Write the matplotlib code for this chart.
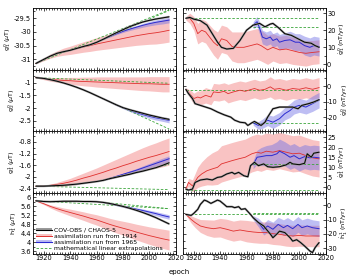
import numpy as np
import matplotlib.pyplot as plt
from matplotlib.ticker import MultipleLocator, AutoMinorLocator, FuncFormatter
from matplotlib.patches import Patch
from matplotlib.lines import Line2D

plt.rcParams['axes.unicode_minus'] = False
plt.rcParams['font.family'] = 'DejaVu Sans'

# ---- left column: Gauss coefficients (muT), 5-year epochs ----
yr_l = [1914, 1920, 1925, 1930, 1935, 1940, 1945, 1950, 1955, 1960, 1965,
        1970, 1975, 1980, 1985, 1990, 1995, 2000, 2005, 2010, 2015]
yr_l65 = [1965, 1970, 1975, 1980, 1985, 1990, 1995, 2000, 2005, 2010, 2015]

g10_obs = [-31.15, -31.0, -30.88, -30.78, -30.72, -30.67, -30.6, -30.53, -30.47, -30.38, -30.27,
           -30.15, -30.03, -29.92, -29.81, -29.72, -29.64, -29.58, -29.53, -29.49, -29.45]
g10_r14 = [-31.15, -31.0, -30.88, -30.79, -30.72, -30.67, -30.61, -30.55, -30.5, -30.44, -30.39,
           -30.34, -30.29, -30.24, -30.19, -30.14, -30.1, -30.06, -30.03, -29.99, -29.94]
g10_r14_sd = [0.01, 0.05, 0.08, 0.1, 0.13, 0.15, 0.17, 0.19, 0.21, 0.23, 0.25,
              0.27, 0.29, 0.31, 0.33, 0.35, 0.37, 0.39, 0.41, 0.42, 0.43]
g10_r65 = [-30.27, -30.17, -30.07, -29.98, -29.9, -29.83, -29.76, -29.7, -29.65, -29.61, -29.57]
g10_r65_sd = [0.005, 0.02, 0.03, 0.04, 0.05, 0.06, 0.07, 0.08, 0.09, 0.1, 0.1]
g10_ext14 = [-31.15, -29.2]
g10_ext65 = [-30.27, -29.22]

g20_obs = [-0.8, -0.83, -0.88, -0.94, -1.01, -1.09, -1.18, -1.28, -1.39, -1.51, -1.63,
           -1.75, -1.87, -1.98, -2.06, -2.13, -2.2, -2.27, -2.33, -2.39, -2.44]
g20_r14 = [-0.8, -0.84, -0.87, -0.89, -0.91, -0.92, -0.94, -0.95, -0.96, -0.97, -0.98,
           -0.99, -1.0, -1.01, -1.02, -1.03, -1.04, -1.04, -1.05, -1.06, -1.06]
g20_r14_sd = [0.01, 0.04, 0.07, 0.09, 0.11, 0.13, 0.15, 0.17, 0.18, 0.2, 0.21,
              0.22, 0.23, 0.24, 0.25, 0.26, 0.27, 0.28, 0.29, 0.3, 0.3]
g20_r65 = [-1.63, -1.75, -1.87, -1.98, -2.08, -2.17, -2.25, -2.32, -2.38, -2.43, -2.48]
g20_r65_sd = [0.005, 0.02, 0.03, 0.04, 0.05, 0.06, 0.07, 0.08, 0.09, 0.09, 0.1]
g20_ext14 = [-0.8, -1.02]
g20_ext65 = [-1.63, -2.82]

g11_obs = [-2.33, -2.33, -2.32, -2.31, -2.3, -2.28, -2.26, -2.23, -2.2, -2.17, -2.13,
           -2.07, -2.02, -1.97, -1.92, -1.86, -1.81, -1.75, -1.69, -1.61, -1.52]
g11_r14 = [-2.33, -2.32, -2.3, -2.27, -2.23, -2.18, -2.12, -2.05, -1.99, -1.92, -1.85,
           -1.77, -1.7, -1.62, -1.55, -1.47, -1.4, -1.33, -1.27, -1.2, -1.13]
g11_r14_sd = [0.01, 0.02, 0.04, 0.07, 0.1, 0.12, 0.15, 0.17, 0.2, 0.22, 0.25,
              0.27, 0.3, 0.32, 0.35, 0.37, 0.4, 0.42, 0.44, 0.46, 0.47]
g11_r65 = [-2.13, -2.06, -1.99, -1.92, -1.85, -1.78, -1.7, -1.62, -1.54, -1.46, -1.38]
g11_r65_sd = [0.005, 0.02, 0.03, 0.04, 0.05, 0.06, 0.07, 0.08, 0.09, 0.1, 0.1]
g11_ext14 = [-2.33, -2.45]
g11_ext65 = [-2.13, -1.58]

h11_obs = [5.85, 5.82, 5.81, 5.82, 5.83, 5.83, 5.83, 5.82, 5.82, 5.81, 5.78,
           5.73, 5.67, 5.6, 5.52, 5.43, 5.33, 5.22, 5.1, 4.96, 4.82]
h11_r14 = [5.85, 5.72, 5.6, 5.5, 5.41, 5.33, 5.25, 5.17, 5.08, 5.0, 4.9,
           4.8, 4.71, 4.63, 4.55, 4.46, 4.38, 4.3, 4.23, 4.16, 4.1]
h11_r14_sd = [0.01, 0.04, 0.07, 0.1, 0.12, 0.15, 0.17, 0.19, 0.21, 0.23, 0.25,
              0.27, 0.29, 0.31, 0.33, 0.35, 0.37, 0.39, 0.41, 0.43, 0.44]
h11_r65 = [5.78, 5.72, 5.66, 5.6, 5.55, 5.48, 5.42, 5.35, 5.28, 5.2, 5.13]
h11_r65_sd = [0.005, 0.02, 0.03, 0.04, 0.05, 0.06, 0.07, 0.08, 0.09, 0.1, 0.1]
h11_ext14 = [5.85, 5.5]
h11_ext65 = [5.78, 5.5]

# ---- right column: secular variation (nT/yr) ----
sv10_obs_yr = [1914, 1917, 1920, 1925, 1930, 1934, 1938, 1941, 1945, 1950, 1955, 1960, 1965,
               1970, 1974, 1978, 1980, 1984, 1989, 1994, 1999, 2004, 2009, 2012, 2015]
sv10_obs = [27, 27.5, 26.5, 25.6, 23, 18, 13, 10, 9, 9.4, 14, 20, 23,
            24, 22, 23.6, 24, 21.6, 18, 17, 15, 13, 12.4, 11, 10]
sv10_r14_yr = [1914, 1917, 1920, 1923, 1926, 1929, 1932, 1935, 1938, 1941, 1945, 1949, 1953,
               1958, 1963, 1968, 1971, 1976, 1980, 1985, 1990, 1995, 2000, 2005, 2010, 2015]
sv10_r14 = [27, 27, 24, 18, 20, 19, 16, 13, 11, 15, 14, 10.5, 10,
            10, 11, 12, 11, 8.5, 10, 8.5, 9, 8, 7, 6.5, 7, 7.4]
sv10_r14_sd = [1, 3, 4, 6, 6.5, 6.5, 7, 7.5, 8, 8, 8, 8.5, 9,
               9, 9, 9, 9, 8.5, 8, 8, 8, 8, 7.5, 7.5, 7, 7]
sv10_r65_yr = [1965, 1968, 1970, 1972, 1975, 1978, 1980, 1983, 1985, 1989, 1993, 1997, 2000,
               2004, 2008, 2011, 2015]
sv10_r65 = [23, 25, 21, 16, 15, 16, 14, 15, 13, 14, 14.4, 13, 13, 11, 10, 11, 10.4]
sv10_r65_sd = [2, 3, 3.5, 4, 4, 4, 4, 4, 4.5, 4.5, 5, 5, 5, 5.5, 5.5, 5.5, 5.5]
sv10_ext14 = [27, 27]
sv10_ext65 = [22, 22]

sv20_obs_yr = [1914, 1916, 1919, 1921, 1925, 1929, 1933, 1938, 1943, 1948, 1951, 1955, 1959,
               1961, 1964, 1966, 1969, 1971, 1974, 1976, 1980, 1985, 1990, 1995, 1999, 2002,
               2007, 2011, 2015]
sv20_obs = [-2, -4.8, -8, -11.3, -12.4, -13.5, -14.6, -16.7, -18.5, -20, -22, -23.3, -23.7,
            -25.4, -23.7, -22.8, -24.3, -25.4, -23.3, -20, -14.6, -13.5, -13.5, -13.5, -14.6,
            -12.4, -11.3, -10.2, -8.7]
sv20_r14_yr = [1914, 1918, 1920, 1923, 1925, 1929, 1933, 1935, 1939, 1943, 1946, 1950, 1955,
               1959, 1963, 1966, 1970, 1974, 1978, 1981, 1985, 1990, 1995, 2000, 2005, 2010, 2015]
sv20_r14 = [-2, -5.9, -8, -7, -7.6, -5.9, -7, -3.7, -4.1, -3.3, -4.8, -3.7, -2.6,
            -3.3, -2.2, -1.5, -2.6, -2, -0.4, -2, -1.5, -2.6, -1.5, -2, -1, -2, -0.9]
sv20_r14_sd = [1, 3, 3.5, 4, 4.5, 5, 5, 5.5, 5.5, 5.5, 6, 6, 6,
               6, 6, 6, 6, 6, 6.5, 6.5, 6.5, 6.5, 6.5, 6.5, 6.5, 6.5, 6.5]
sv20_r65_yr = [1965, 1969, 1972, 1976, 1980, 1985, 1989, 1993, 1996, 2000, 2005, 2010, 2015]
sv20_r65 = [-23.7, -25.4, -24.3, -22, -23.3, -21, -17.8, -15.7, -13.5, -12.4, -13.5, -11.3, -9]
sv20_r65_sd = [1.5, 2.5, 3, 3.5, 4, 4, 4, 4.5, 4.5, 4.5, 4.5, 5, 5]
sv20_ext14 = [-2.5, -2.5]
sv20_ext65 = [-23.5, -23.5]

sv11_obs_yr = [1914, 1916, 1919, 1921, 1925, 1930, 1934, 1938, 1941, 1945, 1949, 1951, 1954,
               1958, 1961, 1963, 1966, 1969, 1973, 1976, 1980, 1985, 1990, 1993, 1995, 2000,
               2004, 2006, 2009, 2011, 2015]
sv11_obs = [-0.8, -1.3, -0.8, 2.5, 3.7, 4.2, 3.7, 5, 5.3, 6.7, 7.5, 6.7, 7.5,
            5.8, 5.3, 10.8, 12.5, 10.8, 11.7, 10.3, 10, 10.3, 11.2, 12.5, 11.7, 11.3,
            12, 16.7, 15, 17, 17.5]
sv11_r14_yr = [1914, 1916, 1919, 1923, 1926, 1930, 1934, 1938, 1941, 1945, 1949, 1954, 1959,
               1964, 1968, 1971, 1975, 1980, 1985, 1990, 1995, 2000, 2005, 2010, 2015]
sv11_r14 = [-0.8, 2.5, 0.8, 5, 6.7, 8.3, 9.2, 10, 11.7, 12.5, 13.3, 14.2, 15,
            16.7, 17.5, 17, 18, 17.5, 18.3, 17.5, 16.7, 17, 15.8, 14.7, 14.2]
sv11_r14_sd = [0.5, 2, 3, 5, 6, 7, 8, 8.5, 9, 9, 9, 9, 9,
               9, 9, 9, 9, 9, 9, 9, 9, 9, 9, 9, 9]
sv11_r65_yr = [1965, 1968, 1971, 1975, 1979, 1983, 1985, 1989, 1993, 1996, 2000, 2004, 2008,
               2011, 2015]
sv11_r65 = [11.3, 15, 15.3, 15.8, 15.8, 16.7, 18, 16.7, 15, 15.8, 14.2, 15.3, 14.7, 15, 14.7]
sv11_r65_sd = [2, 3.5, 4.5, 5, 5.5, 6, 6, 6, 6, 6, 6, 6, 6, 6, 6]
sv11_ext14 = [-1.2, -1.2]
sv11_ext65 = [11.5, 11.5]

sh11_obs_yr = [1914, 1918, 1920, 1923, 1925, 1928, 1930, 1933, 1935, 1938, 1940, 1943, 1945,
               1949, 1951, 1954, 1956, 1959, 1963, 1965, 1969, 1973, 1975, 1978, 1980, 1983,
               1985, 1989, 1993, 1995, 1998, 2001, 2004, 2008, 2010, 2012, 2015]
sh11_obs = [-6.3, -7, -5.6, -2.8, 0.7, 3.7, 3, 1.4, 2.3, 3.7, 3, 0.7, -0.9,
            -0.9, -1.6, -0.9, -2.8, -2.3, -6.3, -8.6, -12, -14.4, -16.7, -20, -22.6, -20,
            -18, -19, -22.6, -25, -24, -26, -28.4, -31.9, -33, -29.5, -26]
sh11_r14_yr = [1914, 1918, 1921, 1925, 1930, 1935, 1940, 1945, 1950, 1955, 1960, 1965, 1970,
               1975, 1980, 1985, 1990, 1995, 2000, 2005, 2010, 2015]
sh11_r14 = [-6.3, -9.8, -12, -14.4, -15.6, -16.3, -15.6, -16.7, -18, -17.2, -18, -18.6, -19,
            -19, -19.8, -20.2, -21, -21.4, -21, -21.4, -21.4, -21.4]
sh11_r14_sd = [0.5, 2.5, 3.5, 4.5, 5.5, 6, 6.5, 7, 7, 7, 7.5, 7.5, 7.5,
               7.5, 7.5, 7.5, 7.5, 7.5, 7.5, 7.5, 7.5, 7.5]
sh11_r65_yr = [1965, 1969, 1973, 1976, 1980, 1984, 1988, 1991, 1995, 1999, 2002, 2006, 2010, 2015]
sh11_r65 = [-8.6, -12, -16.7, -14.4, -16.7, -13.3, -15.6, -14, -16.3, -13.3, -15.6, -14.4, -15.6, -16.3]
sh11_r65_sd = [1.5, 3, 4, 4.5, 5, 5, 5.5, 5.5, 5.5, 5.5, 5.5, 5.5, 5.5, 5.5]
sh11_ext14 = [-6.3, -6.3]
sh11_ext65 = [-5.6, -5.6]

ext14_yr = [1914, 2015]
ext65_yr = [1965, 2015]

left_labels = [r'$\mathrm{g}_1^0$ ($\mu$T)', r'$\mathrm{g}_2^0$ ($\mu$T)',
               r'$\mathrm{g}_1^1$ ($\mu$T)', r'$\mathrm{h}_1^1$ ($\mu$T)']
right_labels = [r'$\dot{\mathrm{g}}_1^0$ (nT/yr)', r'$\dot{\mathrm{g}}_2^0$ (nT/yr)',
                r'$\dot{\mathrm{g}}_1^1$ (nT/yr)', r'$\dot{\mathrm{h}}_1^1$ (nT/yr)']

RED = '#e0302e'
PINK = '#f9c3c3'
BLUE = '#2b2bd0'
LBLUE = '#6f6fe6'
GREEN = '#3aa53a'
GREY = '#9a9a9a'


def draw_panel(ax, obs, r14, r65, ext14, ext65):
    (xo, yo), (x1, y1, s1), (x2, y2, s2) = obs, r14, r65
    y1, s1, y2, s2 = map(np.asarray, (y1, s1, y2, s2))
    ax.fill_between(x1, y1 - s1, y1 + s1, color=PINK, lw=0, zorder=1)
    ax.fill_between(x2, y2 - s2, y2 + s2, color=LBLUE, alpha=0.45, lw=0, zorder=2)
    ax.plot(ext14_yr, ext14, color=GREEN, lw=0.6, ls=(0, (3, 2)), zorder=3)
    ax.plot(ext65_yr, ext65, color=GREEN, lw=0.6, ls=(0, (3, 2)), zorder=3)
    ax.plot(x1, y1, color=RED, lw=0.6, zorder=4)
    ax.plot(x2, y2, color=BLUE, lw=0.7, zorder=5)
    ax.plot(xo, yo, color=GREY, lw=1.5, zorder=6, solid_capstyle='butt')
    ax.plot(xo, yo, color='k', lw=0.7, zorder=7)


def style(ax, yticks, ylim, label, right=False, bottom=False):
    ax.set_xlim(1911.5, 2020)
    ax.set_ylim(*ylim)
    ax.set_yticks(yticks)
    ax.yaxis.set_major_formatter(FuncFormatter(lambda v, p: '%g' % v))
    ax.xaxis.set_major_locator(MultipleLocator(20))
    ax.xaxis.set_minor_locator(MultipleLocator(2))
    ax.yaxis.set_minor_locator(AutoMinorLocator(2))
    ax.tick_params(which='both', direction='in', top=True, right=True, left=True,
                   labelsize=4.8, width=0.5, pad=1.0)
    ax.tick_params(which='major', length=2.5)
    ax.tick_params(which='minor', length=1.3)
    ax.tick_params(axis='x', labelbottom=bottom)
    if right:
        ax.tick_params(axis='y', labelleft=False, labelright=True)
        ax.yaxis.set_label_position('right')
    ax.set_ylabel(label, fontsize=4.6, labelpad=0.8)
    for s in ax.spines.values():
        s.set_linewidth(0.6)


fig = plt.figure(figsize=(3.54, 2.77), dpi=100)
gs = fig.add_gridspec(4, 2, left=0.092, right=0.92, top=0.971, bottom=0.083,
                      hspace=0, wspace=0.048)

left_rows = [
    (g10_obs, g10_r14, g10_r14_sd, g10_r65, g10_r65_sd, g10_ext14, g10_ext65,
     [-31, -30.5, -30, -29.5], (-31.37, -29.13)),
    (g20_obs, g20_r14, g20_r14_sd, g20_r65, g20_r65_sd, g20_ext14, g20_ext65,
     [-2.5, -2, -1.5, -1], (-2.9, -0.48)),
    (g11_obs, g11_r14, g11_r14_sd, g11_r65, g11_r65_sd, g11_ext14, g11_ext65,
     [-2.4, -2, -1.6, -1.2, -0.8], (-2.55, -0.42)),
    (h11_obs, h11_r14, h11_r14_sd, h11_r65, h11_r65_sd, h11_ext14, h11_ext65,
     [3.6, 4, 4.4, 4.8, 5.2, 5.6, 6], (3.48, 6.22)),
]
right_rows = [
    (sv10_obs_yr, sv10_obs, sv10_r14_yr, sv10_r14, sv10_r14_sd, sv10_r65_yr, sv10_r65,
     sv10_r65_sd, sv10_ext14, sv10_ext65, [0, 10, 20, 30], (-3, 33)),
    (sv20_obs_yr, sv20_obs, sv20_r14_yr, sv20_r14, sv20_r14_sd, sv20_r65_yr, sv20_r65,
     sv20_r65_sd, sv20_ext14, sv20_ext65, [-20, -10, 0], (-29, 10.8)),
    (sv11_obs_yr, sv11_obs, sv11_r14_yr, sv11_r14, sv11_r14_sd, sv11_r65_yr, sv11_r65,
     sv11_r65_sd, sv11_ext14, sv11_ext65, [0, 5, 10, 15, 20, 25], (-2.5, 28)),
    (sh11_obs_yr, sh11_obs, sh11_r14_yr, sh11_r14, sh11_r14_sd, sh11_r65_yr, sh11_r65,
     sh11_r65_sd, sh11_ext14, sh11_ext65, [-30, -20, -10, 0], (-34, 9)),
]

for i in range(4):
    obs, r14, s14, r65, s65, e14, e65, yt, yl = left_rows[i]
    axl = fig.add_subplot(gs[i, 0])
    draw_panel(axl, (yr_l, obs), (yr_l, r14, s14), (yr_l65, r65, s65), e14, e65)
    style(axl, yt, yl, left_labels[i], bottom=(i == 3))

    xo, yo, x1, y1, s1, x2, y2, s2, e14, e65, yt, yl = right_rows[i]
    axr = fig.add_subplot(gs[i, 1])
    draw_panel(axr, (xo, yo), (x1, y1, s1), (x2, y2, s2), e14, e65)
    style(axr, yt, yl, right_labels[i], right=True, bottom=(i == 3))

    if i == 3:
        handles = [
            (Patch(facecolor=GREY, lw=0), Line2D([], [], color='k', lw=0.8)),
            (Patch(facecolor=PINK, lw=0), Line2D([], [], color=RED, lw=0.7)),
            (Patch(facecolor=LBLUE, alpha=0.45, lw=0), Line2D([], [], color=BLUE, lw=0.8)),
            Line2D([], [], color=GREEN, lw=0.6, ls=(0, (3, 2))),
        ]
        names = ['COV-OBS / CHAOS-5', 'assimilation run from 1914',
                 'assimilation run from 1965', 'mathematical linear extrapolations']
        axl.legend(handles, names, loc='lower left', fontsize=4.4, frameon=False,
                   handlelength=2.6, handleheight=0.6, labelspacing=0.15,
                   borderaxespad=0.15, handletextpad=0.4)

fig.text(0.505, 0.008, 'epoch', ha='center', va='bottom', fontsize=5)

fig.savefig('out.png', dpi=100)
